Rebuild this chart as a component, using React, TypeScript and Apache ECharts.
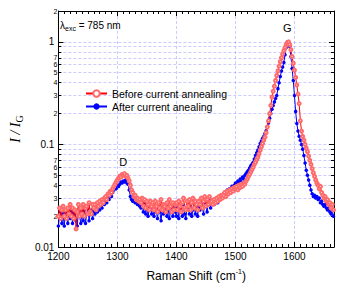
import React, { useEffect, useRef } from 'react';
import * as echarts from 'echarts';

// Raman shift grid (cm^-1): first point and spacing of the spectra
const ramanStart = 1200;
const ramanStep = 2;

// I / I_G, before current annealing (red)
const beforeAnnealing = [
  0.020, 0.024, 0.019, 0.023, 0.025, 0.020, 0.023, 0.019, 0.024, 0.021,
  0.026, 0.020, 0.024, 0.019, 0.023, 0.015, 0.022, 0.026, 0.020, 0.024,
  0.021, 0.026, 0.020, 0.024, 0.025, 0.021, 0.027, 0.022, 0.021, 0.026,
  0.024, 0.026, 0.023, 0.027, 0.025, 0.028, 0.026, 0.029, 0.027, 0.030,
  0.031, 0.029, 0.033, 0.032, 0.035, 0.034, 0.037, 0.039, 0.041, 0.043,
  0.045, 0.047, 0.049, 0.048, 0.051, 0.050, 0.052, 0.049, 0.050, 0.047,
  0.044, 0.040, 0.036, 0.034, 0.031, 0.032, 0.029, 0.030, 0.028, 0.029,
  0.027, 0.030, 0.025, 0.029, 0.024, 0.028, 0.026, 0.023, 0.028, 0.025,
  0.027, 0.023, 0.028, 0.025, 0.022, 0.027, 0.024, 0.029, 0.023, 0.026,
  0.025, 0.022, 0.027, 0.024, 0.029, 0.025, 0.022, 0.027, 0.023, 0.026,
  0.027, 0.023, 0.028, 0.025, 0.022, 0.027, 0.030, 0.024, 0.023, 0.028,
  0.025, 0.029, 0.023, 0.027, 0.030, 0.024, 0.028, 0.026, 0.023, 0.028,
  0.026, 0.030, 0.024, 0.028, 0.031, 0.025, 0.029, 0.026, 0.031, 0.027,
  0.028, 0.026, 0.029, 0.027, 0.030, 0.028, 0.031, 0.029, 0.032, 0.030,
  0.032, 0.034, 0.031, 0.035, 0.033, 0.036, 0.034, 0.037, 0.035, 0.038,
  0.037, 0.039, 0.036, 0.040, 0.038, 0.041, 0.039, 0.042, 0.041, 0.044,
  0.046, 0.049, 0.051, 0.054, 0.057, 0.060, 0.064, 0.067, 0.071, 0.075,
  0.081, 0.088, 0.095, 0.102, 0.110, 0.118, 0.130, 0.148, 0.170, 0.200,
  0.24, 0.29, 0.33, 0.37, 0.42, 0.47, 0.52, 0.58, 0.64, 0.70,
  0.76, 0.82, 0.88, 0.94, 0.98, 1.0, 0.94, 0.84, 0.72, 0.62,
  0.53, 0.45, 0.38, 0.31, 0.25, 0.17, 0.135, 0.12, 0.11, 0.10,
  0.092, 0.085, 0.077, 0.070, 0.064, 0.058, 0.053, 0.049, 0.045, 0.042,
  0.040, 0.037, 0.039, 0.034, 0.032, 0.030, 0.031, 0.028, 0.029, 0.026,
  0.027, 0.024, 0.026, 0.023,
];

// I / I_G, after current annealing (blue)
const afterAnnealing = [
  0.016, 0.020, 0.022, 0.017, 0.021, 0.016, 0.022, 0.019, 0.017, 0.021,
  0.019, 0.022, 0.017, 0.021, 0.023, 0.018, 0.016, 0.022, 0.020, 0.017,
  0.022, 0.018, 0.023, 0.017, 0.021, 0.024, 0.018, 0.022, 0.023, 0.019,
  0.022, 0.021, 0.023, 0.022, 0.025, 0.023, 0.026, 0.024, 0.027, 0.026,
  0.028, 0.027, 0.030, 0.029, 0.032, 0.031, 0.034, 0.036, 0.038, 0.037,
  0.040, 0.039, 0.041, 0.043, 0.042, 0.044, 0.043, 0.045, 0.042, 0.041,
  0.036, 0.031, 0.029, 0.028, 0.029, 0.027, 0.028, 0.026, 0.027, 0.025,
  0.024, 0.027, 0.022, 0.026, 0.021, 0.025, 0.020, 0.024, 0.025, 0.021,
  0.024, 0.020, 0.025, 0.022, 0.019, 0.024, 0.022, 0.018, 0.024, 0.021,
  0.022, 0.025, 0.020, 0.024, 0.019, 0.022, 0.025, 0.020, 0.024, 0.022,
  0.020, 0.024, 0.019, 0.025, 0.022, 0.020, 0.026, 0.021, 0.019, 0.024,
  0.025, 0.021, 0.026, 0.020, 0.023, 0.027, 0.021, 0.025, 0.020, 0.026,
  0.023, 0.027, 0.024, 0.021, 0.028, 0.025, 0.022, 0.027, 0.029, 0.024,
  0.027, 0.029, 0.026, 0.028, 0.030, 0.027, 0.031, 0.029, 0.032, 0.030,
  0.033, 0.031, 0.034, 0.036, 0.033, 0.037, 0.035, 0.039, 0.037, 0.040,
  0.042, 0.038, 0.044, 0.041, 0.046, 0.043, 0.048, 0.046, 0.050, 0.052,
  0.054, 0.056, 0.059, 0.062, 0.064, 0.067, 0.072, 0.078, 0.083, 0.088,
  0.095, 0.102, 0.108, 0.115, 0.120, 0.128, 0.136, 0.148, 0.162, 0.180,
  0.20, 0.22, 0.24, 0.26, 0.28, 0.30, 0.35, 0.40, 0.46, 0.52,
  0.57, 0.63, 0.75, 0.88, 1.0, 0.97, 0.90, 0.72, 0.55, 0.42,
  0.30, 0.21, 0.16, 0.135, 0.12, 0.11, 0.10, 0.09, 0.078, 0.066,
  0.056, 0.050, 0.045, 0.040, 0.036, 0.033, 0.031, 0.032, 0.030, 0.031,
  0.029, 0.030, 0.027, 0.028, 0.026, 0.025, 0.026, 0.024, 0.023, 0.024,
  0.022, 0.021, 0.023, 0.020,
];

const seriesNames = ['Before current annealing', 'After current anealing'];
const peakLabels = [
  { name: 'D', shift: 1310, ratio: 0.068 },
  { name: 'G', shift: 1588, ratio: 1.37 },
];

const xMin = 1200;
const xMax = 1667;
const xMajorTicks = [1200, 1300, 1400, 1500, 1600];
const xMinorStep = 10;

const yMin = 0.01;
const yMax = 2;
const yMajorTicks = [0.01, 0.1, 1];
const yGridTicks = [
  0.02, 0.03, 0.04, 0.05, 0.06, 0.07, 0.08, 0.09, 0.1,
  0.2, 0.3, 0.4, 0.5, 0.6, 0.7, 0.8, 0.9, 1, 2,
];
const yMinorLabelTicks = [0.02, 0.03, 0.04, 0.05, 0.06, 0.07, 0.2, 0.3, 0.4, 0.5, 0.6, 0.7, 2];

const FONT = '"Liberation Sans", Arial, Helvetica, sans-serif';
const SERIF = '"Liberation Serif", "Times New Roman", serif';
const GRID_LINE = { show: true, lineStyle: { color: 'rgba(110,110,255,0.35)', type: [3, 2] as any, width: 1 } };

export default function App() {
  const ref = useRef<HTMLDivElement>(null);

  useEffect(() => {
    document.body.style.margin = '0';
    if (!ref.current) return;
    const chart = echarts.init(ref.current, undefined, { renderer: 'svg' });

    const xMinorTicks: number[] = [];
    for (let v = xMin + xMinorStep; v < xMax; v += xMinorStep) {
      if (v % 100 !== 0) xMinorTicks.push(v);
    }
    const lg = (v: number) => Math.log10(v);
    const lMin = lg(yMin);
    const lMax = lg(yMax);
    const near = (arr: number[], v: number) => arr.find((t) => Math.abs(lg(t) - v) < 1e-6);

    const mk = (arr: number[]) => arr.map((v, i) => [ramanStart + ramanStep * i, v]);

    const hiddenLine = { show: false, onZero: false };
    const blackLine = { show: true, onZero: false, lineStyle: { color: '#000', width: 1 } };

    const baseValueY = {
      type: 'value' as const,
      min: lMin,
      max: lMax,
      splitLine: { show: false },
      axisLabel: { show: false },
      axisLine: hiddenLine,
    };
    const baseX = {
      type: 'value' as const,
      min: xMin,
      max: xMax,
      splitLine: { show: false },
      axisLabel: { show: false },
      axisLine: hiddenLine,
    };

    chart.setOption({
      animation: false,
      backgroundColor: '#ffffff',
      grid: { left: 49, right: 19, top: 11, bottom: 42, containLabel: false },
      legend: {
        data: seriesNames,
        orient: 'vertical',
        left: 80,
        top: 83,
        itemWidth: 21,
        itemHeight: 8,
        itemGap: 2,
        textStyle: { fontFamily: FONT, fontSize: 10.5, color: '#000', lineHeight: 11 },
      },
      graphic: [
        {
          type: 'text',
          left: 60,
          top: 20,
          style: {
            text: 'λ{sub|exc} = 785 nm',
            fontFamily: FONT,
            fontSize: 10,
            fill: '#000',
            rich: {
              sub: { fontSize: 7, fontFamily: FONT, verticalAlign: 'bottom', lineHeight: 14 },
            },
          },
        },
      ],
      xAxis: [
        {
          ...baseX,
          position: 'bottom',
          axisLine: blackLine,
          axisTick: { show: true, inside: true, length: 5, customValues: xMajorTicks, lineStyle: { color: '#000' } },
          axisLabel: {
            show: true,
            customValues: xMajorTicks,
            margin: 4,
            fontFamily: FONT,
            fontSize: 10,
            color: '#000',
            formatter: (v: number) => String(v),
          },
          splitLine: GRID_LINE,
          name: 'Raman Shift (cm{sup|-1})',
          nameLocation: 'middle',
          nameGap: 21,
          nameTextStyle: {
            fontFamily: FONT,
            fontSize: 12,
            color: '#000',
            lineHeight: 16,
            rich: { sup: { fontSize: 7, fontFamily: FONT, verticalAlign: 'top', lineHeight: 16 } },
          },
        },
        {
          ...baseX,
          position: 'bottom',
          axisTick: { show: true, inside: true, length: 3, customValues: xMinorTicks, lineStyle: { color: '#000' } },
        },
        {
          ...baseX,
          position: 'top',
          axisLine: blackLine,
          axisTick: { show: true, inside: true, length: 5, customValues: xMajorTicks, lineStyle: { color: '#000' } },
        },
        {
          ...baseX,
          position: 'top',
          axisTick: { show: true, inside: true, length: 3, customValues: xMinorTicks, lineStyle: { color: '#000' } },
        },
      ],
      yAxis: [
        { type: 'log', logBase: 10, min: yMin, max: yMax, show: false, axisLine: hiddenLine },
        {
          ...baseValueY,
          position: 'left',
          axisLine: blackLine,
          axisTick: { show: true, inside: true, length: 5, customValues: yMajorTicks.map(lg), lineStyle: { color: '#000' } },
          axisLabel: {
            show: true,
            customValues: yMajorTicks.map(lg),
            margin: 4,
            fontFamily: FONT,
            fontSize: 10,
            color: '#000',
            formatter: (v: number) => {
              const t = near(yMajorTicks, v);
              return t === undefined ? '' : String(t);
            },
          },
          name: '{i|I / I}{s|G}',
          nameLocation: 'middle',
          nameGap: 18,
          nameRotate: 90,
          nameTextStyle: {
            rich: {
              i: { fontFamily: SERIF, fontStyle: 'italic', fontSize: 14, color: '#000', lineHeight: 18 },
              s: { fontFamily: SERIF, fontSize: 10, color: '#000', verticalAlign: 'bottom', lineHeight: 18 },
            },
          },
        },
        {
          ...baseValueY,
          position: 'left',
          axisTick: { show: true, inside: true, length: 3, customValues: yGridTicks.map(lg), lineStyle: { color: '#000' } },
          axisLabel: {
            show: true,
            customValues: yMinorLabelTicks.map(lg),
            margin: 1,
            fontFamily: FONT,
            fontSize: 7,
            color: '#000',
            formatter: (v: number) => {
              const t = near(yMinorLabelTicks, v);
              if (t === undefined) return '';
              return String(Math.round(t / Math.pow(10, Math.floor(lg(t) + 1e-9))));
            },
          },
          splitLine: GRID_LINE,
        },
        {
          ...baseValueY,
          position: 'right',
          axisLine: blackLine,
          axisTick: { show: true, inside: true, length: 5, customValues: yMajorTicks.map(lg), lineStyle: { color: '#000' } },
        },
        {
          ...baseValueY,
          position: 'right',
          axisTick: { show: true, inside: true, length: 3, customValues: yGridTicks.map(lg), lineStyle: { color: '#000' } },
        },
      ],
      series: [
        {
          name: seriesNames[1],
          type: 'line',
          xAxisIndex: 0,
          yAxisIndex: 0,
          data: mk(afterAnnealing),
          symbol: 'circle',
          symbolSize: 3.5,
          showSymbol: true,
          itemStyle: { color: '#0000ff' },
          lineStyle: { color: '#0000ff', width: 1 },
          z: 3,
        },
        {
          name: seriesNames[0],
          type: 'line',
          xAxisIndex: 0,
          yAxisIndex: 0,
          data: mk(beforeAnnealing),
          symbol: 'emptyCircle',
          symbolSize: 3,
          showSymbol: true,
          itemStyle: { color: '#ff6a6a', borderWidth: 0.7 },
          lineStyle: { color: '#ff0000', width: 1 },
          z: 4,
          markPoint: {
            symbol: 'circle',
            symbolSize: 1,
            itemStyle: { color: 'rgba(0,0,0,0)' },
            label: { show: true, position: 'inside', formatter: '{b}', color: '#000', fontFamily: FONT, fontSize: 11 },
            data: peakLabels.map((p) => ({ name: p.name, coord: [p.shift, p.ratio] })),
          },
        },
      ],
    });

    return () => chart.dispose();
  }, []);

  return <div ref={ref} style={{ width: 353, height: 289 }} />;
}
